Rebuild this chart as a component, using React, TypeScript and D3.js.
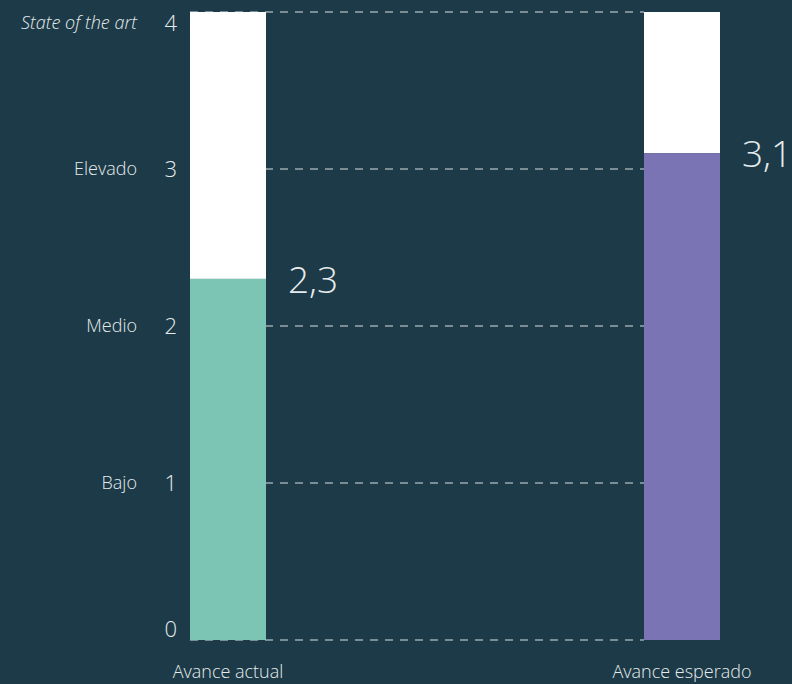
import React from "react";
import * as d3 from "d3";

const categories = ["Avance actual", "Avance esperado"];
const values = [2.3, 3.1];
const valueLabels = ["2,3", "3,1"];
const maxValue = 4;
const tickValues = [0, 1, 2, 3, 4];
const levelLabels = ["", "Bajo", "Medio", "Elevado", "State of the art"];
const barColors = ["#7cc5b5", "#7a74b4"];

const W = 792;
const H = 684;
const BG = "#1c3a47";
const TEXT = "#e6ebed";
const FONT = "'Open Sans', 'Noto Sans', sans-serif";

export default function App() {
  const y = d3.scaleLinear().domain([0, maxValue]).range([640, 12]);
  const x = d3.scaleBand<string>().domain(categories).range([190, 720]).paddingInner(0.8326).paddingOuter(0);
  const bw = x.bandwidth();
  // tick label vertical position, clamped inside the plot at the ends
  const labelY = (t: number) => Math.min(Math.max(y(t), 23), 629);

  return (
    <svg width={W} height={H} style={{ position: "absolute", left: 0, top: 0, background: BG }}>
      <rect x={0} y={0} width={W} height={H} fill={BG} />
      {tickValues.map((t) => (
        <line
          key={"g" + t}
          x1={x(categories[0])!}
          x2={x(categories[1])!}
          y1={y(t)}
          y2={y(t)}
          stroke="#d8dfe2"
          strokeWidth={1.2}
          strokeDasharray="8,7"
        />
      ))}
      {categories.map((c, i) => (
        <g key={c}>
          <rect x={x(c)!} y={y(maxValue)} width={bw} height={y(values[i]) - y(maxValue)} fill="#ffffff" />
          <rect x={x(c)!} y={y(values[i])} width={bw} height={y(0) - y(values[i])} fill={barColors[i]} />
          <text
            x={x(c)! + bw + 22}
            y={y(values[i]) + 14}
            fill={TEXT}
            fontFamily={FONT}
            fontWeight={300}
            fontSize={37}
          >
            {valueLabels[i]}
          </text>
          <text
            x={x(c)! + bw / 2}
            y={678}
            textAnchor="middle"
            fill={TEXT}
            fontFamily={FONT}
            fontWeight={300}
            fontSize={18}
          >
            {c}
          </text>
        </g>
      ))}
      {tickValues.map((t, i) => (
        <g key={"t" + t}>
          <text
            x={177}
            y={labelY(t) + 8}
            textAnchor="end"
            fill={TEXT}
            fontFamily={FONT}
            fontWeight={300}
            fontSize={22}
          >
            {t}
          </text>
          <text
            x={137}
            y={labelY(t) + 6}
            textAnchor="end"
            fill={TEXT}
            fontFamily={FONT}
            fontWeight={300}
            fontStyle={i === 4 ? "italic" : "normal"}
            fontSize={18}
          >
            {levelLabels[i]}
          </text>
        </g>
      ))}
    </svg>
  );
}
